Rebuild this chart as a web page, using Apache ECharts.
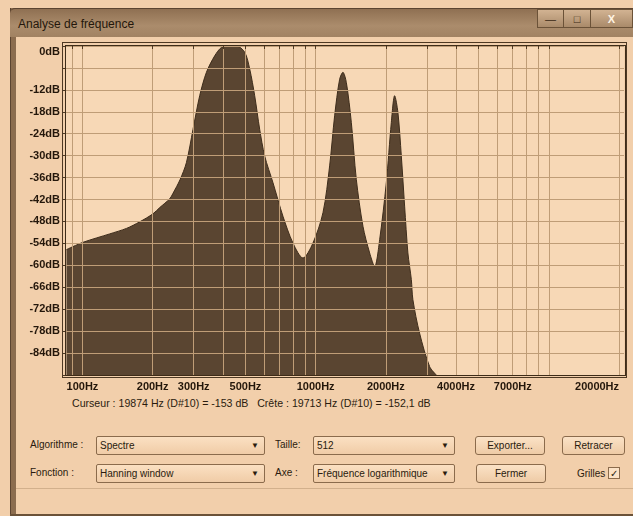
<!DOCTYPE html>
<html>
<head>
<meta charset="utf-8">
<script src="https://cdn.jsdelivr.net/npm/echarts@6/dist/echarts.min.js"></script>
<style>
  html, body { margin:0; padding:0; }
  body { width:633px; height:516px; overflow:hidden; position:relative; background:#f2cfab;
         font-family:"Liberation Sans", Arial, sans-serif; color:#2a1b0e; }
  .abs { position:absolute; }
  #leftEdge { left:10px; top:8px; width:5px; height:508px; background:#8c6d4f; border-left:1px solid #5c4430; }
  #titlebar { left:10px; top:8px; width:623px; height:28px; background:linear-gradient(#8f7052, #ab8c6c 60%, #a18262);
              border-top:1px solid #5c4430; border-radius:5px 0 0 0; }
  #title { left:18px; top:17px; font-size:12px; color:#24170b; }
  .wbtn { top:9px; height:19px; border:1px solid #6b5238; background:linear-gradient(#d2b392,#a98a6a); font-size:11px;
          text-align:center; line-height:18px; color:#3a2814; box-sizing:border-box; }
  #plotOuter { left:62px; top:42px; width:565px; height:336px; border:1px solid #4d3822; box-sizing:border-box; }
  #plotBorder { left:65px; top:45px; width:561px; height:331px; border:1px solid #3e2c18; box-sizing:border-box; pointer-events:none; z-index:3; }
  #chart { left:0; top:0; width:633px; height:516px; z-index:2; }
  .txt { font-size:10px; white-space:nowrap; color:#2a1b0e; }
  .sel { height:19px; border:1px solid #8b6b4c; border-radius:2px; background:linear-gradient(#fbe0c2,#f0cca7);
         box-sizing:border-box; font-size:10px; line-height:17px; padding-left:3px; white-space:nowrap; }
  .sel .arr { position:absolute; right:5px; top:0; font-size:8px; }
  .btn { height:19px; border:1px solid #8b6b4c; border-radius:3px; background:linear-gradient(#fbe2c6,#eecba6);
         box-sizing:border-box; font-size:10px; line-height:17px; text-align:center; white-space:nowrap; }
  #sep { left:16px; top:488px; width:617px; height:1px; background:#d2b08c; }
  #bottomLine { left:10px; top:514px; width:623px; height:2px; background:#6b5238; }
</style>
</head>
<body>
<div id="leftEdge" class="abs"></div>
<div id="titlebar" class="abs"></div>
<div id="title" class="abs">Analyse de fréquence</div>
<div class="abs wbtn" style="left:537px;width:27px;">&#8212;</div>
<div class="abs wbtn" style="left:563px;width:28px;">&#9633;</div>
<div class="abs wbtn" style="left:590px;width:43px;color:#fff4e4;font-weight:bold;">X</div>

<div id="plotOuter" class="abs"></div>
<div id="chart" class="abs"></div>
<div id="plotBorder" class="abs"></div>

<div class="abs txt" style="left:72px;top:397px;font-size:10.6px;">Curseur : 19874 Hz (D#10) = -153 dB&nbsp;&nbsp;&nbsp;Crête : 19713 Hz (D#10) = -152,1 dB</div>

<div class="abs txt" style="left:30px;top:439px;">Algorithme :</div>
<div class="abs sel" style="left:96px;top:436px;width:169px;">Spectre<span class="arr">&#9660;</span></div>
<div class="abs txt" style="left:275px;top:439px;">Taille:</div>
<div class="abs sel" style="left:313px;top:436px;width:142px;">512<span class="arr">&#9660;</span></div>
<div class="abs btn" style="left:475px;top:436px;width:70px;">Exporter...</div>
<div class="abs btn" style="left:562px;top:436px;width:63px;">Retracer</div>

<div class="abs txt" style="left:30px;top:467px;">Fonction :</div>
<div class="abs sel" style="left:96px;top:464px;width:169px;">Hanning window<span class="arr">&#9660;</span></div>
<div class="abs txt" style="left:275px;top:467px;">Axe :</div>
<div class="abs sel" style="left:313px;top:464px;width:142px;">Fréquence logarithmique<span class="arr">&#9660;</span></div>
<div class="abs btn" style="left:476px;top:464px;width:70px;">Fermer</div>
<div class="abs txt" style="left:577px;top:468px;">Grilles</div>
<div class="abs" style="left:608px;top:467px;width:12px;height:12px;border:1px solid #8b6b4c;background:#fbe2c6;font-size:10px;line-height:12px;text-align:center;box-sizing:border-box;">&#10003;</div>

<div id="sep" class="abs"></div>
<div id="bottomLine" class="abs"></div>

<script>
// spectrum (Hz, dB)
const freqHz = [85.4, 100.6, 130.9, 154.4, 176, 200.7, 214.5, 236.7, 244.5, 262, 279.1, 297.9, 318.2, 340.1, 369, 394.2,
  423.6, 457.2, 496.3, 521.4, 547.7, 575.4, 604.5, 656.1, 724.2, 799.2, 882.3, 973.7, 1075, 1148, 1206, 1267, 1309,
  1354, 1422, 1494, 1595, 1704, 1790, 1881, 2009, 2111, 2181, 2253, 2330, 2407, 2486, 2572, 2612, 2791, 3081, 3291];
const levelDb = [-55.7, -53.7, -51.4, -49.9, -48.1, -45.9, -44.2, -41.8, -40.3, -36.6, -31.9, -22.8, -13.6, -7.2, -2.7, -0.4,
  0, 0, -1.7, -6.3, -13.6, -22.8, -30.1, -37.4, -46.6, -53.9, -58.0, -53.9, -45.6, -32.8, -19.1, -9.1, -7.2,
  -10.0, -20.9, -36.5, -49.3, -56.6, -60.3, -53.0, -37.4, -20.9, -13.6, -18.2, -30.1, -43.8, -56.6, -63.9, -69.4, -78.6, -87.7, -90];

// x grid lines and labelled ticks
const gridHz = [90, 100, 200, 300, 400, 500, 600, 700, 800, 900, 1000, 2000, 3000, 4000, 5000, 6000, 7000, 8000, 9000, 10000, 20000];
const labelHz = [100, 200, 300, 500, 1000, 2000, 4000, 7000, 20000];
const hiddenDb = [-6, -90];

const gridColor = '#bf9d77';
const textColor = '#24170b';

const chart = echarts.init(document.getElementById('chart'));
chart.setOption({
  animation: false,
  backgroundColor: 'transparent',
  grid: { left: 66, top: 46, width: 558, height: 329, show: true, backgroundColor: '#f7d8b6', borderWidth: 0 },
  xAxis: {
    type: 'log', logBase: 10, min: 85, max: 21000, z: 5,
    axisLine: { show: false },
    axisTick: { show: true, length: 3, customValues: gridHz, lineStyle: { color: '#4d3822' } },
    axisLabel: { customValues: labelHz, formatter: v => v + 'Hz', fontSize: 11, fontWeight: 'bold', color: textColor,
                 margin: 6, fontFamily: 'Liberation Sans', alignMaxLabel: 'right' },
    splitLine: { show: true, lineStyle: { color: gridColor, width: 1 } },
    minorTick: { show: false }, minorSplitLine: { show: false }
  },
  yAxis: {
    type: 'value', min: -90, max: 0, interval: 6, z: 5,
    axisLine: { show: false },
    axisTick: { show: true, length: 3, lineStyle: { color: '#4d3822' } },
    axisLabel: { formatter: v => hiddenDb.includes(v) ? '' : v + 'dB', fontSize: 11, fontWeight: 'bold', color: textColor,
                 margin: 6, fontFamily: 'Liberation Sans', verticalAlignMaxLabel: 'top' },
    splitLine: { show: true, lineStyle: { color: gridColor, width: 1 } }
  },
  series: [{
    type: 'line', z: 1,
    data: freqHz.map((f, i) => [f, levelDb[i]]),
    showSymbol: false, smooth: 0.3,
    lineStyle: { color: '#3e2d1c', width: 1 },
    areaStyle: { color: '#5a4531', opacity: 1, origin: 'start' }
  }]
});
</script>
</body>
</html>
